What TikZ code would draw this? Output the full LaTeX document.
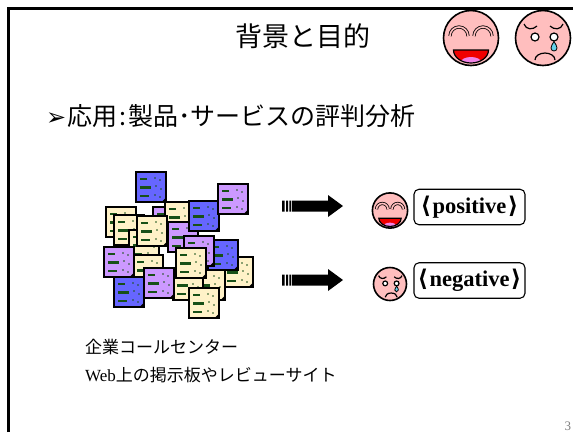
\documentclass[tikz,border=0pt]{standalone}
\usepackage{fontspec}
\setmainfont{Liberation Serif}
\newfontfamily\jp{Noto Sans CJK JP}
\newfontfamily\symb{DejaVu Sans}
\definecolor{docblue}{RGB}{102,102,255}
\definecolor{docpurple}{RGB}{204,153,255}
\definecolor{docyellow}{RGB}{255,242,200}
\definecolor{docgreen}{RGB}{24,80,24}
\definecolor{facepink}{RGB}{255,190,190}
\definecolor{mouthred}{RGB}{240,0,0}
\definecolor{tonguepink}{RGB}{240,130,230}
\definecolor{tearcyan}{RGB}{100,210,235}
\tikzset{
  pics/docsheet/.style={code={
    \filldraw[fill=#1, draw=black, line width=1.6] (0,0) rectangle (30,30);
    \fill[black] (25.5,30) -- (30,25.5) -- (30,30) -- cycle;
    \draw[docgreen, line width=2.2] (4,7) -- (11,7) (4,15.5) -- (15,15.5) (4,24) -- (13,24);
    \fill[docgreen] (19,6) circle (0.9) (24,8) circle (0.9) (20,14) circle (0.9)
      (25,17) circle (0.9) (19,23) circle (0.9) (24,25) circle (0.9);
  }},
  pics/happyface/.style={code={
    \filldraw[fill=facepink, line width=1.6] (0,0) circle (27.5);
    \draw[line width=0.8, double=facepink, double distance=1.6]
      (-21,-2) arc[start angle=180, end angle=360, radius=9]
      (3,-2) arc[start angle=180, end angle=360, radius=9];
    \begin{scope}
      \clip (-17.5,12) arc[start angle=180, end angle=0, x radius=17.5, y radius=13] -- cycle;
      \fill[mouthred] (-18,10) rectangle (18,26);
      \fill[tonguepink] (0,24) ellipse [x radius=10, y radius=5];
    \end{scope}
    \draw[line width=1.2] (-17.5,12) arc[start angle=180, end angle=0, x radius=17.5, y radius=13] -- cycle;
  }},
  pics/sadface/.style={code={
    \filldraw[fill=facepink, line width=1.6] (0,0) circle (27.5);
    \draw[line width=1.2] (-19,-14) .. controls (-17,-8) and (-10,-8) .. (-6,-12)
      (7,-12) .. controls (11,-8) and (18,-8) .. (20,-14);
    \filldraw[fill=white, line width=1.2] (-8,-1) circle (4) (11,-1) circle (4);
    \filldraw[fill=tearcyan, line width=0.8] (11,3.5) .. controls (9.5,6) and (8,8) .. (8,10)
      arc[start angle=180, end angle=0, radius=3] .. controls (14,8) and (12.5,6) .. (11,3.5) -- cycle;
    \draw[line width=1.2] (-8,22) arc[start angle=180, end angle=360, x radius=10, y radius=7];
  }},
  labelbox/.style={draw, line width=1.1, rounded corners=5, minimum width=111, minimum height=35.5,
    inner sep=0, font=\fontsize{22.5}{26}\selectfont\bfseries},
  blockarrow/.style={fill=black},
}
\newcommand{\stripedarrow}[2]{%
  \begin{scope}[shift={(#1,#2)}]
    \fill[blockarrow] (0,-5.5) rectangle (2.5,5.5) (4,-5.5) rectangle (6,5.5) (7.3,-5.5) rectangle (9,5.5);
    \fill[blockarrow] (9.8,-5.5) -- (46,-5.5) -- (46,-11) -- (61,0) -- (46,11) -- (46,5.5) -- (9.8,5.5) -- cycle;
  \end{scope}}
\newcommand{\polarity}[1]{\raisebox{-1.5pt}{{\symb\bfseries\fontsize{23}{26}\selectfont ⟨}\kern1.5pt #1\kern1.5pt{\symb\bfseries\fontsize{23}{26}\selectfont ⟩}}}
\begin{document}
\begin{tikzpicture}[x=1pt, y=-1pt]
\useasboundingbox (0,0) rectangle (573,432);
\fill[white] (0,0) rectangle (573,432);

% slide frame
\draw[line width=3] (8,432) -- (8,8.5) -- (573,8.5);

% heading and faces
\node[anchor=base, font=\jp\fontsize{27}{32}\selectfont] (title) at (303,46.5) {背景と目的};
\pic (hf) at (471,38) {happyface};
\pic (sf) at (543,38) {sadface};

\node[anchor=base west, font=\fontsize{25}{30}\selectfont, inner sep=0] (app) at (46,125.5)
  {{\symb\fontsize{24}{28}\selectfont ➢}\kern1pt{\jp 応用\kern2pt:\kern2pt 製品･サービスの評判分析}};

% pile of documents
\pic at (223,257) {docsheet=docyellow};
\pic at (195,270) {docsheet=docyellow};
\pic at (173,270) {docsheet=docyellow};
\pic at (123,266) {docsheet=docyellow};
\pic at (106,207) {docsheet=docyellow};
\pic at (153,207) {docsheet=docpurple};
\pic at (165,202) {docsheet=docyellow};
\pic at (168,222) {docsheet=docpurple};
\pic at (189,201) {docsheet=docblue};
\pic at (136,172) {docsheet=docblue};
\pic at (218,184) {docsheet=docpurple};
\pic at (114,215) {docsheet=docyellow};
\pic at (129,230) {docsheet=docyellow};
\pic at (137,216) {docsheet=docyellow};
\pic at (208,240) {docsheet=docblue};
\pic at (184,236) {docsheet=docpurple};
\pic at (176,248) {docsheet=docyellow};
\pic at (133,255) {docsheet=docyellow};
\pic at (114,277) {docsheet=docblue};
\pic at (104,247) {docsheet=docpurple};
\pic at (144,268) {docsheet=docpurple};
\pic at (189,288) {docsheet=docyellow};

% arrows to the polarity labels
\stripedarrow{282}{206}
\stripedarrow{282}{280}

\pic[scale=0.64] (hs) at (390,210.5) {happyface};
\pic[scale=0.6] (ss) at (390,284) {sadface};

\node[labelbox] (pos) at (469.5,207) {\makebox[0pt]{\polarity{positive}}};
\node[labelbox] (neg) at (469.5,280.5) {\makebox[0pt]{\polarity{negative}}};

% sources
\node[anchor=base west, inner sep=0, font=\jp\fontsize{17}{20}\selectfont] (src1) at (85,353.5) {企業コールセンター};
\node[anchor=base west, inner sep=0, font=\fontsize{17}{20}\selectfont] (src2) at (85,381) {Web{\jp 上の掲示板やレビューサイト}};

\node[anchor=base west, inner sep=0, text=gray, font=\fontsize{13}{15}\selectfont] (page) at (564.5,430) {3};
\end{tikzpicture}
\end{document}
